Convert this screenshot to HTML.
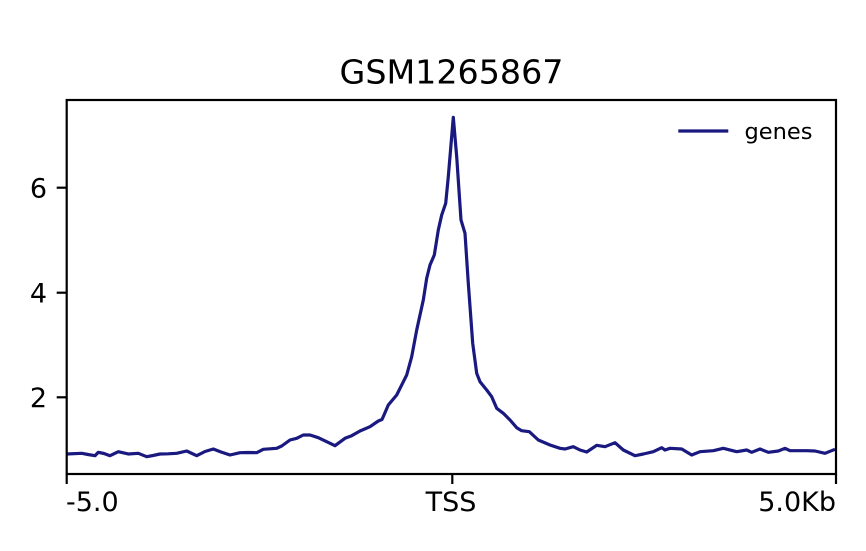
<!DOCTYPE html>
<html>
<head>
<meta charset="utf-8">
<style>
  html, body { margin: 0; padding: 0; background: #ffffff; }
  body { width: 866px; height: 551px; overflow: hidden; }
  svg { display: block; }
  text { font-family: "DejaVu Sans", "Liberation Sans", sans-serif; fill: #000; }
</style>
</head>
<body>
<svg width="866" height="551" viewBox="0 0 866 551" xmlns="http://www.w3.org/2000/svg">
  <rect x="0" y="0" width="866" height="551" fill="#ffffff"/>

  <!-- title -->
  <text x="451.5" y="83.5" font-size="33.3" text-anchor="middle">GSM1265867</text>

  <!-- data line -->
  <polyline fill="none" stroke="#191980" stroke-width="3.2" stroke-linejoin="round" stroke-linecap="butt"
    points="
66.7,454 81.7,453.3 88,454.5 95,455.7 98.3,452.3 104,453.5 110,455.7 118.3,451.7 128.3,454 138.3,453.3
146.7,456.7 153,455.5 160,454 168,453.8 176.7,453.3 186.7,451 196.7,455.7 205,451.5 213.3,449 221,452
230,455 240,452.7 248,452.5 256.7,452.7 263.3,449.3 276.7,448.3 281.7,446 290,440 296.7,438.3 303.3,435
310,435 318.3,437.7 326.7,441.7 335,445.7 345,438.3 351.7,435.7 360,431 370,426.7 378.3,421 382,419.5
384,415 388.3,405 396.7,395 406.7,375 411.7,356.7 416.7,330 423.3,300 426.7,278.3 430,265 434.3,255
438.3,230 441.7,215 445.7,203.3 448.3,176.7 453.3,117.3 456.7,156.7 461,220 465,233.3 468.3,283.3 472.7,343.3
476.7,373.3 480,381.7 486.7,390 491.7,396.7 496.7,408.3 503.3,413.3 510,420 516.7,427.7 521.7,430.7 529.3,431.7
538.3,440 550,445 560,448.3 565,449 573.3,446.7 580,450 586.7,452 596.7,445.3 605,446.7 615,442.7
623.3,450 635,455.7 643.3,454 653.3,451.7 661.7,447.7 665,450 670,448.3 681.7,449 691.7,455 700,451.7
713.3,450.7 723.3,448.3 736.7,451.7 746.7,450 751.7,452.3 760,449 768.3,452.3 778.3,451 785,448.3 790,450.7
806.7,450.7 815,451 825,453.3 835,449.3"/>

  <!-- axes frame -->
  <rect x="66.7" y="100" width="769.3" height="374" fill="none" stroke="#000" stroke-width="2.2"/>

  <!-- ticks -->
  <g stroke="#000" stroke-width="2.2">
    <line x1="56.7" y1="187.7" x2="66.7" y2="187.7"/>
    <line x1="56.7" y1="292.7" x2="66.7" y2="292.7"/>
    <line x1="56.7" y1="397.3" x2="66.7" y2="397.3"/>
    <line x1="66.7" y1="474" x2="66.7" y2="484"/>
    <line x1="452.3" y1="474" x2="452.3" y2="484"/>
    <line x1="836" y1="474" x2="836" y2="484"/>
  </g>

  <!-- y tick labels -->
  <text x="47" y="197.5" font-size="27" text-anchor="end">6</text>
  <text x="47" y="302.5" font-size="27" text-anchor="end">4</text>
  <text x="47" y="407" font-size="27" text-anchor="end">2</text>

  <!-- x tick labels -->
  <text x="66" y="511" font-size="27" text-anchor="start">-5.0</text>
  <text x="451" y="511" font-size="27" text-anchor="middle">TSS</text>
  <text x="836" y="511" font-size="27" text-anchor="end">5.0Kb</text>

  <!-- legend -->
  <line x1="678.3" y1="131" x2="728.3" y2="131" stroke="#191980" stroke-width="3.2"/>
  <text x="744.5" y="139" font-size="22.5">genes</text>
</svg>
</body>
</html>
